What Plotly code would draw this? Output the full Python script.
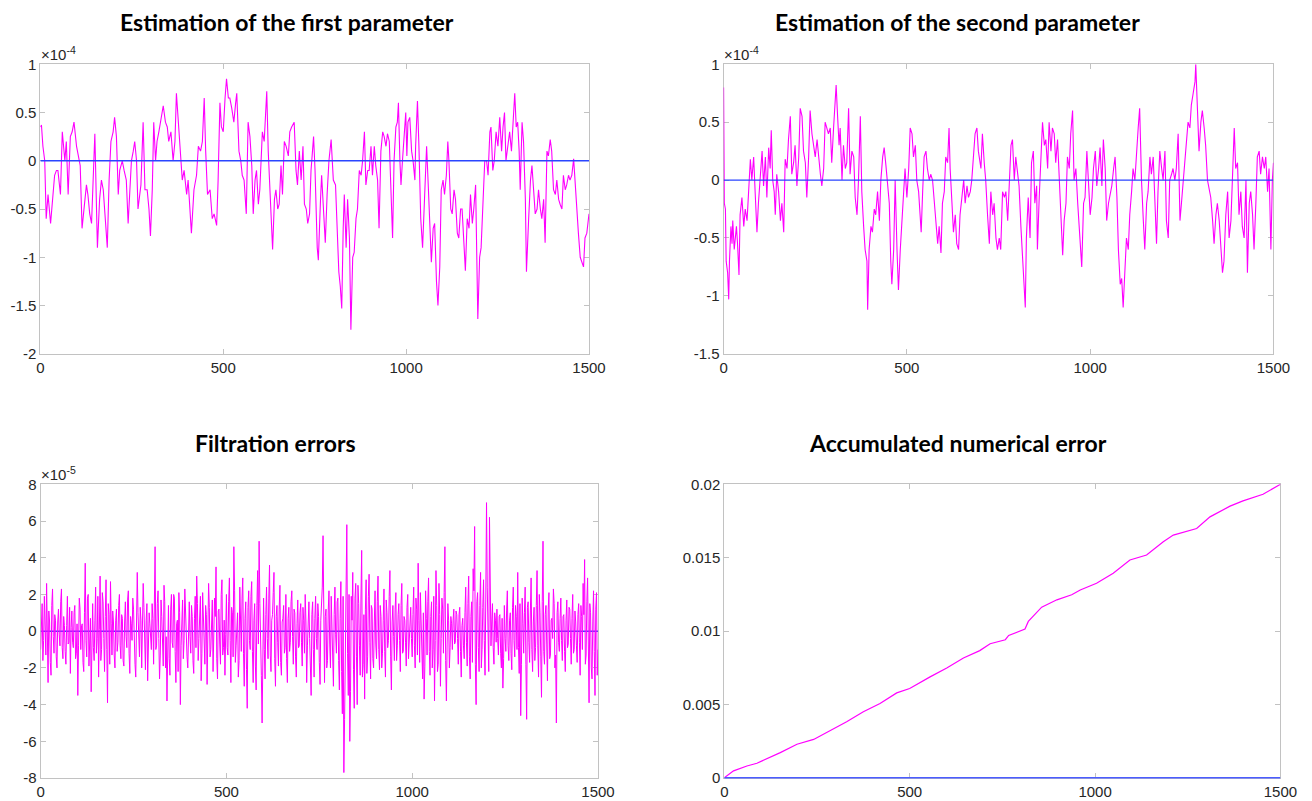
import plotly.graph_objects as go

# ---------------- data ----------------
# Panel 1: estimation error of the first parameter (units of 1e-4)
p1_x = [0,3,7,12,16,21,28,35,39,44,48,55,60,67,71,76,82,87,92,99,105,109,114,120,126,130,135,140,144,149,
        153,156,162,167,172,178,183,188,193,199,203,208,213,217,224,229,235,240,245,249,254,258,263,267,275,281,286,292,297,301,
        306,310,315,319,324,329,336,342,347,351,357,363,368,372,377,383,388,393,400,404,410,413,420,427,432,438,443,448,452,457,
        464,470,475,482,486,491,495,500,505,509,514,518,523,529,534,537,543,548,552,557,563,568,573,578,582,587,591,596,600,607,
        612,619,623,628,632,635,640,644,649,653,658,662,667,672,678,682,687,694,699,703,708,713,718,722,727,731,736,740,747,751,
        757,760,766,769,774,779,784,789,795,801,807,811,816,820,824,828,831,836,840,845,849,854,858,863,867,872,877,881,886,890,
        895,899,904,908,913,917,922,926,931,936,940,945,949,954,958,963,967,972,976,979,983,986,990,995,999,1002,1005,1010,1015,1019,
        1024,1026,1031,1035,1040,1045,1049,1054,1056,1061,1065,1069,1074,1078,1083,1087,1092,1096,1101,1105,1110,1114,1117,1122,1126,1131,1135,1140,1144,1149,
        1153,1158,1162,1167,1172,1176,1181,1185,1190,1196,1201,1205,1211,1215,1220,1224,1229,1232,1237,1241,1246,1251,1256,1261,1265,1269,1273,1278,1283,1288,
        1291,1297,1301,1305,1309,1312,1317,1321,1326,1329,1335,1340,1344,1349,1353,1358,1362,1367,1371,1376,1380,1385,1389,1394,1398,1403,1408,1412,1417,1421,
        1426,1430,1435,1439,1444,1448,1453,1458,1462,1467,1471,1476,1480,1485,1489,1494,1500]
p1_y = [0.35,0.37,0.15,0.0,-0.6,-0.35,-0.65,-0.35,-0.15,-0.1,-0.1,-0.35,0.3,0.0,0.2,-0.35,0.25,0.3,0.4,0.15,0.0,-0.05,-0.7,-0.45,-0.25,-0.35,-0.55,-0.65,-0.3,0.28,
        -0.4,-0.9,-0.4,-0.2,-0.3,-0.65,-0.9,-0.2,0.2,0.3,0.45,0.25,-0.35,-0.1,0.0,-0.1,-0.2,-0.65,-0.3,0.0,0.1,0.2,0.0,-0.5,-0.25,0.4,-0.3,-0.3,-0.5,-0.78,
        -0.3,0.4,0.0,0.2,0.3,0.4,0.57,0.4,0.35,0.2,0.3,0.0,0.2,0.7,0.45,0.15,-0.2,-0.1,-0.35,-0.2,-0.55,-0.75,-0.3,-0.15,0.15,0.1,0.2,0.65,0.1,-0.35,
        -0.3,-0.6,-0.55,-0.67,-0.2,0.6,0.35,0.3,0.65,0.85,0.65,0.65,0.55,0.4,0.6,0.7,0.1,0.0,-0.15,-0.2,-0.55,0.4,0.25,-0.05,-0.55,-0.2,-0.1,-0.45,-0.3,0.3,
        0.2,0.72,0.1,-0.3,-0.6,-0.92,-0.4,-0.3,-0.5,-0.45,-0.05,-0.35,0.2,0.15,0.05,0.3,0.35,0.4,-0.1,-0.25,0.1,-0.2,0.15,-0.45,-0.5,-0.65,-0.55,-0.1,0.25,-0.1,
        -0.9,-1.03,-0.4,-0.15,-0.5,-0.85,-0.35,0.0,0.22,-0.2,-0.25,-0.7,-1.15,-1.3,-1.53,-0.7,-0.35,-0.9,-0.4,-0.8,-1.75,-1.0,-0.95,-0.6,-0.5,-0.1,-0.15,0.0,0.3,-0.25,
        -0.1,-0.1,0.15,-0.15,0.15,-0.05,-0.2,-0.7,0.1,0.3,0.25,0.15,0.28,0.2,-0.3,-0.8,0.0,0.35,0.4,0.6,0.0,-0.25,0.0,0.3,0.5,0.05,0.4,0.45,0.1,0.0,
        -0.2,0.15,0.62,0.15,-0.6,-0.9,-0.55,-0.2,0.15,-0.3,-0.6,-1.05,-0.7,-0.65,-1.25,-1.5,-1.1,-0.3,-0.2,-0.35,-0.15,0.2,0.0,-0.5,-0.55,-0.3,-0.4,-0.75,-0.8,-0.5,
        -0.5,-0.85,-1.14,-0.6,-0.7,-0.35,-0.65,-0.5,-0.25,-1.64,-1.0,-0.9,-0.4,0.0,0.0,-0.15,0.3,0.35,-0.1,0.0,0.3,0.15,0.45,0.1,0.35,0.5,0.0,0.15,0.3,0.1,
        0.3,0.7,0.35,0.4,0.1,-0.3,0.4,0.2,-0.4,-1.15,-0.6,-0.2,-0.05,-0.4,-0.55,-0.5,-0.3,-0.5,-0.6,-0.4,-0.85,0.1,0.05,0.22,0.1,-0.3,-0.35,-0.2,-0.4,-0.45,
        -0.5,-0.15,-0.3,-0.25,-0.15,-0.2,-0.15,0.02,-0.25,-0.5,-0.75,-1.0,-1.05,-1.1,-0.8,-0.75,-0.55]

# Panel 2: estimation error of the second parameter (units of 1e-4)
p2_x = [0,2,5,7,11,14,16,20,23,25,29,32,35,38,42,45,50,55,59,64,68,73,77,82,86,91,95,100,105,109,
        114,118,123,127,130,134,138,141,145,150,155,159,164,168,173,177,182,186,191,195,200,205,209,214,218,223,227,232,236,241,
        245,250,255,259,264,268,273,277,282,286,291,295,300,305,307,311,315,318,323,327,332,336,341,345,350,355,359,364,368,373,
        377,382,386,391,393,397,402,406,411,415,420,425,429,434,438,443,447,452,456,459,464,468,473,477,482,486,491,495,500,505,
        509,514,518,523,527,532,536,539,543,547,552,556,561,565,570,575,579,584,588,593,597,602,606,611,615,618,623,627,632,636,
        641,645,650,655,659,664,668,673,677,682,686,691,695,702,706,711,715,720,725,729,734,738,743,747,752,756,761,766,770,775,
        779,784,788,793,797,802,806,811,816,820,823,826,831,836,840,845,849,854,856,861,866,870,875,879,884,888,893,897,902,906,
        911,916,920,925,929,934,938,943,947,952,956,961,966,970,975,977,982,986,991,995,1000,1005,1009,1014,1018,1023,1027,1032,1036,1041,
        1045,1050,1055,1059,1064,1068,1073,1077,1082,1086,1090,1095,1099,1104,1108,1113,1117,1122,1126,1131,1135,1140,1145,1149,1154,1158,1163,1167,1172,1176,
        1181,1185,1190,1195,1199,1204,1208,1213,1217,1222,1226,1231,1235,1240,1245,1249,1254,1258,1263,1267,1272,1276,1281,1286,1288,1293,1297,1302,1306,1311,
        1315,1320,1325,1329,1334,1338,1343,1347,1352,1356,1361,1365,1370,1375,1379,1384,1388,1393,1397,1402,1406,1411,1415,1420,1425,1429,1434,1438,1443,1447,
        1452,1456,1461,1465,1470,1475,1479,1484,1488,1493,1497,1500]
p2_y = [0.8,-0.2,-0.25,-0.7,-0.8,-1.03,-0.7,-0.4,-0.55,-0.35,-0.6,-0.5,-0.4,-0.55,-0.82,-0.3,-0.15,-0.4,-0.25,-0.35,-0.1,0.18,0.0,0.2,-0.1,-0.45,-0.2,0.0,0.25,-0.05,
        0.2,-0.15,0.28,0.1,0.43,0.0,-0.1,-0.3,0.05,-0.1,-0.35,-0.2,-0.45,0.18,0.1,0.35,0.55,0.05,0.15,0.3,-0.05,0.2,0.62,0.55,0.25,0.15,-0.15,0.2,0.6,0.4,
        0.3,0.2,0.35,0.2,0.05,-0.05,0.1,0.5,0.45,0.4,0.45,0.15,0.45,0.7,0.82,0.55,0.3,0.45,0.0,0.3,0.1,0.15,0.62,0.05,0.25,0.2,-0.15,-0.3,0.0,0.55,
        -0.1,-0.4,-0.6,-0.7,-1.12,-0.6,-0.4,-0.45,-0.25,-0.3,-0.1,-0.35,0.0,0.2,0.28,0.12,0.0,-0.2,-0.7,-0.9,-0.6,0.0,-0.6,-0.95,-0.6,-0.4,-0.2,0.1,-0.15,0.1,
        0.45,0.4,0.2,0.3,0.0,-0.1,-0.3,-0.45,-0.1,0.2,0.25,0.1,0.0,0.05,0.0,-0.2,-0.35,-0.55,-0.4,-0.63,-0.2,-0.1,0.2,0.15,0.45,0.1,-0.2,-0.45,-0.3,-0.55,
        -0.6,-0.3,-0.15,0.0,-0.2,-0.05,-0.15,-0.1,0.0,0.25,0.4,0.45,0.25,0.1,0.4,0.15,0.0,-0.3,-0.55,-0.1,-0.3,-0.2,-0.5,-0.6,-0.5,-0.6,-0.1,-0.15,-0.1,-0.35,
        -0.05,0.3,0.35,0.0,0.2,0.05,-0.05,-0.4,-0.7,-0.9,-1.1,-0.5,-0.15,-0.5,0.15,0.25,-0.2,-0.05,-0.6,-0.15,0.2,0.5,0.3,0.35,0.1,0.5,0.25,0.45,0.4,0.15,
        0.35,0.0,-0.3,-0.65,-0.35,-0.2,0.2,0.1,0.4,0.6,0.0,0.1,-0.2,-0.4,-0.55,-0.75,-0.2,-0.15,0.25,0.0,-0.3,-0.15,0.1,0.25,-0.05,0.1,0.28,-0.05,0.35,0.1,
        -0.35,-0.2,-0.1,-0.05,0.1,0.2,-0.15,-0.6,-0.9,-0.85,-1.1,-0.7,-0.5,-0.6,-0.3,-0.1,0.1,0.0,0.25,0.45,0.62,0.0,-0.35,-0.6,-0.2,-0.1,0.2,0.05,0.2,-0.1,
        -0.55,-0.1,0.25,0.1,0.0,0.25,-0.35,-0.5,0.0,0.05,0.1,0.0,0.1,0.4,-0.35,-0.2,0.0,0.1,0.3,0.5,0.45,0.65,0.75,0.85,1.0,0.6,0.25,0.5,0.6,0.45,
        0.3,0.0,-0.1,-0.15,-0.35,-0.55,-0.3,-0.2,-0.35,-0.55,-0.8,-0.7,-0.3,-0.1,-0.5,-0.35,0.05,0.45,0.1,0.15,-0.3,-0.1,-0.4,-0.5,0.0,-0.8,-0.2,-0.1,-0.3,-0.6,
        -0.2,0.2,0.25,0.05,0.2,0.1,0.2,-0.1,0.1,-0.6,0.0,0.15]

# Panel 3: filtration errors (units of 1e-5)
# values at steps 0, 4, 8, ... 1500
err_even = [
    -1.0,1.5,-0.5,0.8,2.6,-2.8,0.5,-2.4,2.3,-1.2,0.6,-2.0,1.2,-0.8,2.3,-1.5,0.3,-1.8,1.9,-0.6,-2.3,1.1,-0.9,1.4,-1.2,
    -3.5,1.8,-1.0,0.4,-2.2,3.7,-1.4,2.0,-0.8,-3.3,1.5,-1.6,2.4,-0.4,-2.5,3.0,-1.0,1.6,-2.2,2.8,-3.9,0.9,2.7,-1.3,0.5,
    -2.0,1.2,-0.6,2.0,-1.5,0.7,-1.9,1.6,-0.9,2.2,-2.3,0.4,1.8,-1.1,-2.5,3.2,-0.7,1.3,-2.0,2.6,-1.3,0.6,-2.7,1.0,-0.3,
    1.5,-1.8,4.6,-0.8,2.2,-2.6,1.7,-1.0,2.5,-2.0,-3.8,1.4,-2.4,2.0,-0.9,1.8,-2.8,0.6,2.1,-4.0,1.3,-1.5,2.3,-0.7,-2.0,
    1.6,-1.2,0.8,-2.3,1.9,3.0,-1.6,0.9,-2.7,2.1,-0.5,1.4,-2.9,2.6,-1.4,0.7,-2.2,1.8,3.5,-2.6,1.2,-1.8,2.8,-0.9,-2.4,
    2.0,-1.3,2.9,-2.8,1.0,4.6,-1.7,0.5,-2.5,2.4,-1.1,2.9,-3.0,1.6,-4.2,2.2,-1.0,2.7,-2.8,1.5,-3.2,3.3,4.9,-2.0,-5.0,
    1.8,-2.6,2.4,-1.5,3.6,-2.2,0.9,3.2,-3.0,1.4,-1.9,2.5,-2.4,0.7,-1.2,2.0,-2.8,1.3,-0.6,2.2,-1.8,1.0,-2.5,1.7,-0.8,
    1.5,-1.9,0.6,2.0,-2.8,1.1,-0.4,-3.5,1.6,-2.5,1.9,-1.0,0.8,-2.9,1.4,5.2,-2.8,1.2,-1.6,2.2,-2.0,0.5,-3.0,2.4,-1.2,
    1.8,-3.2,2.7,-4.5,-7.7,-2.0,5.8,-3.5,-6.0,1.9,3.2,-4.2,2.6,-4.0,1.5,-2.4,4.4,-1.8,-3.7,2.8,-1.4,3.1,-2.6,1.2,-2.0,
    2.2,-1.5,3.0,-2.1,0.8,-1.2,2.3,-2.5,1.0,-0.5,3.3,-3.2,1.4,-1.6,2.1,-0.8,1.5,-2.2,2.6,-1.1,0.6,-1.9,2.0,-0.6,1.3,
    -1.4,2.4,-2.0,1.2,3.7,-1.7,0.9,-2.6,-3.7,2.2,-1.3,2.9,-2.4,1.6,-1.0,-3.8,3.3,-2.2,2.6,-3.0,1.8,-1.2,4.6,-3.8,1.5,
    -2.0,0.8,-1.0,1.2,-0.6,0.9,-1.8,1.3,-2.5,0.7,-1.5,2.4,-1.9,3.0,-2.6,1.6,3.4,5.7,-4.0,2.1,-2.2,3.2,-1.0,2.8,-2.4,
    7.0,-1.5,6.2,-0.8,1.5,-1.8,0.6,1.2,-1.3,0.9,-2.0,-3.1,1.4,-1.1,2.2,-1.6,1.0,-2.1,2.4,-1.4,0.8,3.2,-2.3,-4.6,1.8,
    -1.2,2.4,-4.8,1.6,-1.7,2.9,-2.2,1.3,-0.9,3.3,-2.5,1.0,-3.6,4.9,-1.8,1.4,-2.7,2.1,-1.3,0.7,2.3,-2.0,-5.0,1.6,-1.1,
    1.8,-1.6,0.9,-2.2,1.7,-0.7,1.2,-1.8,2.0,-1.0,0.5,-1.7,1.5,-2.4,0.8,2.6,3.9,-1.3,2.9,-3.9,1.0,-2.6,2.2,-3.5,2.1,
    -1.0]
# values at steps 2, 6, 10, ... 1498
err_odd = [
    0.4,-1.6,1.9,-1.3,0.2,1.1,-1.7,1.4,-0.3,0.9,-1.4,0.5,-0.2,1.6,-0.9,0.8,-1.1,0.3,-0.7,1.3,0.2,-0.6,1.0,-1.5,0.4,
    -0.8,1.2,0.3,-1.7,1.0,-0.5,1.8,-1.9,0.7,1.3,-0.9,0.6,-1.2,1.9,0.1,-1.6,2.1,-0.4,0.8,-1.0,1.5,-1.8,0.4,1.1,-1.3,
    0.6,-1.1,1.4,-0.8,0.9,-1.6,0.5,-0.3,1.7,-1.2,0.8,-0.5,1.2,-1.8,0.3,1.0,-1.4,0.6,-0.2,1.3,-2.1,1.5,-0.6,0.4,-1.0,
    0.7,2.1,-1.0,1.5,-0.4,-1.3,0.8,-1.9,1.6,-0.3,0.9,-1.5,1.2,-0.6,2.0,-1.1,0.4,-2.2,1.0,-0.8,1.7,-0.5,0.6,-1.4,1.1,
    -0.3,1.4,-1.6,0.7,-0.9,1.5,-0.4,1.9,-1.2,0.5,-1.8,0.9,-0.6,1.3,-1.0,1.7,-0.3,0.8,-1.5,1.1,-0.7,2.0,-1.3,0.6,-0.2,
    -0.9,1.6,-0.5,1.3,-1.4,2.2,-0.8,1.0,-1.6,0.4,1.8,-1.2,0.7,-2.1,1.3,-0.5,1.9,-1.1,0.6,-1.9,1.4,-0.7,1.5,-2.4,0.8,
    -1.0,0.9,-0.4,1.8,-1.3,0.6,2.1,-1.5,0.8,-0.6,1.2,-1.7,0.5,1.4,-0.9,-1.5,0.7,-1.1,1.6,-0.3,1.2,-1.4,0.4,-0.9,1.0,
    -0.6,1.3,-1.2,0.5,-0.8,1.6,-1.9,0.9,-1.0,0.7,-0.4,1.5,-1.7,0.6,2.4,-1.3,0.8,-2.0,1.1,-0.7,1.9,-1.5,0.9,-0.2,1.6,
    -1.6,0.7,-2.2,1.9,-4.8,2.7,-1.2,2.0,-3.3,0.6,-2.1,1.8,-1.4,2.5,-0.8,1.7,-2.5,0.9,1.2,-2.3,1.9,-0.6,1.4,-1.5,0.5,
    -0.7,1.6,-1.0,1.4,-2.0,0.6,-1.1,1.7,-0.9,1.9,-1.4,0.5,-0.3,1.2,-1.6,0.9,-0.5,1.4,-1.2,0.8,-0.6,1.3,-1.5,0.7,-0.4,
    0.9,-0.8,1.8,-1.3,0.6,2.1,-1.5,1.0,-1.9,0.7,1.6,-1.1,0.8,-2.0,1.9,-0.5,1.4,-1.8,0.9,-0.4,1.2,2.1,-1.6,-0.7,0.6,
    -0.9,0.4,0.6,-0.7,1.1,-0.4,0.9,-1.1,0.3,-0.8,1.0,-0.6,1.5,-1.4,0.8,-1.7,2.2,-1.8,1.6,-0.9,1.4,-2.0,1.3,-0.5,1.7,
    2.4,-2.2,1.7,0.5,-0.9,1.0,-0.6,-0.4,0.8,-1.2,0.7,-1.5,-0.4,1.1,-0.8,0.6,-1.2,1.3,-0.5,1.4,-1.0,-0.9,1.5,-1.8,0.4,
    1.0,-1.8,1.3,-0.6,1.1,-1.0,0.5,-1.6,1.4,-0.8,2.0,-1.4,1.6,-1.1,0.9,-0.7,1.2,-1.5,0.6,-0.4,1.5,-1.3,1.0,-0.6,0.7,
    -0.5,0.8,-1.1,0.6,-0.9,1.3,-0.4,0.7,-1.2,1.1,-0.8,0.9,-0.6,1.4,-1.0,0.9,-1.8,1.6,-0.7,1.5,-2.0,0.5,-1.1,1.2,-2.4]

# Panel 4: accumulated numerical error
acc_x = [0,25,61,88,151,196,241,285,330,375,420,465,500,555,600,645,689,717,758,767,811,820,856,897,937,960,
         1004,1049,1094,1139,1184,1211,1274,1310,1364,1399,1453,1500]
acc_y = [0,0.00048,0.00081,0.001,0.00172,0.00229,0.00262,0.0032,0.00382,0.0045,0.00507,0.00579,0.00609,0.00688,
         0.00749,0.00817,0.00867,0.00914,0.00941,0.0097,0.01014,0.01066,0.01163,0.01213,0.01247,0.0128,
         0.01326,0.01394,0.01484,0.01518,0.01609,0.01654,0.01699,0.01778,0.01851,0.01887,0.01932,0.02]

# reference (true) value lines
zero_x = [0, 1500]
zero_y = [0, 0]

titles = ["Estimation of the first parameter", "Estimation of the second parameter",
          "Filtration errors", "Accumulated numerical error"]
x_ticks = [0, 500, 1000, 1500]
y1_ticks = [1, 0.5, 0, -0.5, -1, -1.5, -2]
y2_ticks = [1, 0.5, 0, -0.5, -1, -1.5]
y3_ticks = [8, 6, 4, 2, 0, -2, -4, -6, -8]
y4_ticks = [0.02, 0.015, 0.01, 0.005, 0]
y4_text = ["0.02", "0.015", "0.01", "0.005", "0"]

# merge the two sampled halves of the filtration error into one ordered series
pts = [(4 * i, v) for i, v in enumerate(err_even)] + [(4 * i + 2, v) for i, v in enumerate(err_odd)]
pts = sorted(p for p in pts if p[0] <= 1500)
err_x = [p[0] for p in pts]
err_y = [p[1] for p in pts]

# ---------------- figure ----------------
W, H = 1312, 801
# convert target screen pixels into paper fractions (compensating the page framing seen in renders)
def fx(p): return ((p - 2.6) / 0.9855) / W
def fy(p): return 1 - ((p - 7.94) / 0.9804) / H

MAG = "#ff00ff"
BLUE = "#2a45ff"
FRAME = "#c2c2c2"
TXT = "#262626"
TICKFONT = dict(family="Liberation Sans, Arial, sans-serif", size=15, color=TXT)

fig = go.Figure()

def line(x, y, ax, color, width):
    fig.add_trace(go.Scatter(x=x, y=y, mode="lines", line=dict(color=color, width=width),
                             xaxis="x" + ax, yaxis="y" + ax, showlegend=False, hoverinfo="skip"))

line(p1_x, p1_y, "", MAG, 1.1)
line(zero_x, zero_y, "", BLUE, 1.4)
line(p2_x, p2_y, "2", MAG, 1.1)
line(zero_x, zero_y, "2", BLUE, 1.4)
line(zero_x, zero_y, "3", BLUE, 1.4)
line(err_x, err_y, "3", MAG, 1.0)
line(acc_x, acc_y, "4", MAG, 1.2)
line(zero_x, zero_y, "4", "#4a5cff", 2.0)

def xax(domain, anchor):
    return dict(domain=domain, anchor=anchor, range=[0, 1500], tickvals=x_ticks,
                ticktext=[str(t) for t in x_ticks], ticks="inside", ticklen=5, tickcolor=FRAME,
                showline=True, linecolor=FRAME, linewidth=1, mirror="ticks", layer="below traces",
                showgrid=False, zeroline=False, tickfont=TICKFONT, fixedrange=True)

def yax(domain, anchor, rng, vals, text=None):
    if text is None:
        text = ["%g" % v for v in vals]
    return dict(domain=domain, anchor=anchor, range=rng, tickvals=vals, ticktext=text,
                ticks="inside", ticklen=5, tickcolor=FRAME,
                showline=True, linecolor=FRAME, linewidth=1, mirror="ticks", layer="below traces",
                showgrid=False, zeroline=False, tickfont=TICKFONT, fixedrange=True)

top_y = [fy(353.3), fy(63.3)]
fig.update_layout(
    width=W, height=H, margin=dict(l=0, r=0, t=0, b=0),
    paper_bgcolor="white", plot_bgcolor="white",
    xaxis=xax([fx(39), fx(588.5)], "y"),
    yaxis=yax(top_y, "x", [-2, 1], y1_ticks),
    xaxis2=xax([fx(723.3), fx(1274)], "y2"),
    yaxis2=yax(top_y, "x2", [-1.5, 1], y2_ticks),
    xaxis3=xax([fx(39.3), fx(597.5)], "y3"),
    yaxis3=yax([fy(778.3), fy(484)], "x3", [-8, 8], y3_ticks),
    xaxis4=xax([fx(724), fx(1281)], "y4"),
    yaxis4=yax([fy(778.7), fy(484)], "x4", [-0.00004, 0.02], y4_ticks, y4_text),
)

TITLEFONT = dict(family="Lato, Open Sans, sans-serif", size=23, color="black", weight="bold")
title_pos = [(286.5, 21), (958, 21), (275, 443), (957.7, 443)]
for t, (x, y) in zip(titles, title_pos):
    fig.add_annotation(x=fx(x), y=fy(y), xref="paper", yref="paper", text=t, showarrow=False,
                       xanchor="center", yanchor="middle", font=TITLEFONT)

EXPFONT = dict(family="Liberation Sans, Arial, sans-serif", size=15, color=TXT)
for x, y, e in [(38, 64, "-4"), (722, 64, "-4"), (38, 485, "-5")]:
    fig.add_annotation(x=fx(x), y=fy(y), xref="paper", yref="paper",
                       text="×10<sup>" + e + "</sup>", showarrow=False,
                       xanchor="left", yanchor="bottom", font=EXPFONT)

fig.write_html("out.html", config={"displayModeBar": False})
